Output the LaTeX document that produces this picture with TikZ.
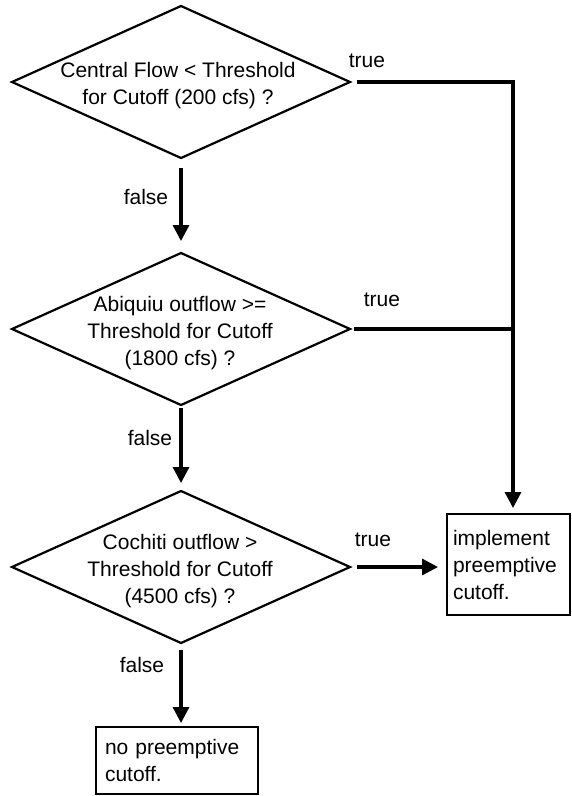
\documentclass[tikz,border=0pt]{standalone}
\usepackage{fontspec}
\setmainfont{Liberation Sans}
\usetikzlibrary{arrows.meta,shapes.geometric}
\begin{document}
\begin{tikzpicture}[x=1pt,y=-1pt,
  decision/.style={draw,shape=diamond,line width=2.2pt,minimum width=338pt,
    minimum height=152pt,inner sep=0pt,outer sep=0pt},
  dtext/.style={align=center,font=\fontsize{21}{27}\selectfont,inner sep=0pt},
  action/.style={draw,line width=2.2pt,align=left,
    font=\fontsize{21}{27}\selectfont,inner ysep=0pt,outer sep=0pt},
  lbl/.style={font=\fontsize{21}{25}\selectfont,inner sep=0pt},
  flow/.style={line width=3.2pt,line join=miter},
  arrow/.style={flow,-{Triangle[length=16pt,width=16pt]}}]

\useasboundingbox (0,0) rectangle (571,796);

% decisions
\node[decision] (d1) at (181,82) {};
\node[dtext] (d1t) at (178,86) {Central Flow < Threshold\\for Cutoff (200 cfs) ?};
\node[decision] (d2) at (181,329) {};
\node[dtext] (d2t) at (180,333) {Abiquiu outflow >=\\Threshold for Cutoff\\(1800 cfs) ?};
\node[decision] (d3) at (181,567) {};
\node[dtext] (d3t) at (180,571) {Cochiti outflow >\\Threshold for Cutoff\\(4500 cfs) ?};

% outcomes
\node[action,minimum width=123pt,minimum height=101pt,text width=111pt,inner xsep=6pt]
  (impl) at (508.5,564.5) {implement\\preemptive\\cutoff.};
\node[action,minimum width=162pt,minimum height=67pt,text width=144pt,inner xsep=9pt]
  (stop) at (177,760.5) {no preemptive\\cutoff.};

% junctions on the "true" collector
\coordinate (j1) at (513,82);
\coordinate (j2) at (513,329);

% true branches
\draw[arrow,shorten <=7pt,shorten >=6pt] (d1.east) -- (j1) -- (j1 |- impl.north);
\draw[flow,shorten <=4pt] (d2.east) -- (j2);
\draw[arrow,shorten <=7pt,shorten >=9pt] (d3.east) -- (d3.east -| impl.west);

% false branches
\draw[arrow,shorten <=10pt,shorten >=12pt] (d1.south) -- (d2.north);
\draw[arrow,shorten <=3pt,shorten >=8pt] (d2.south) -- (d3.north);
\draw[arrow,shorten <=7pt,shorten >=4pt] (d3.south) -- (d3.south |- stop.north);

% branch labels
\node[lbl] (t1) at (367,61) {true};
\node[lbl] (t2) at (382,300) {true};
\node[lbl] (t3) at (373,540) {true};
\node[lbl] (f1) at (146,197) {false};
\node[lbl] (f2) at (150,438) {false};
\node[lbl] (f3) at (142,665) {false};
\end{tikzpicture}
\end{document}
